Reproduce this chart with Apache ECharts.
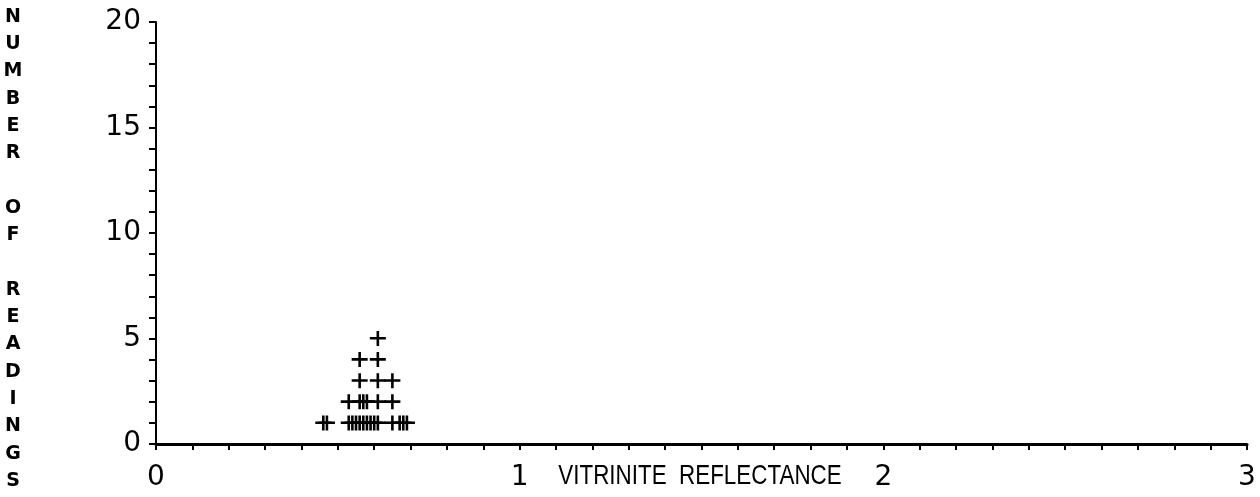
<!DOCTYPE html>
<html>
<head>
<meta charset="utf-8">
<title>Vitrinite reflectance histogram</title>
<script src="https://cdn.jsdelivr.net/npm/echarts@6/dist/echarts.min.js"></script>
<style>
  html, body { margin: 0; padding: 0; background: #ffffff; }
  #chart { width: 1260px; height: 497px; }
</style>
</head>
<body>
<div id="chart"></div>
<script>
// Distinct reflectance values (%Ro) and how many readings fell on each
const reflectance = [0.46, 0.47, 0.53, 0.54, 0.55, 0.56, 0.57, 0.58, 0.59, 0.60, 0.61, 0.65, 0.67, 0.68, 0.69];
const readingCounts = [1, 1, 2, 1, 1, 4, 2, 2, 1, 1, 5, 3, 1, 1, 1];

// Axis ranges and labels
const xTicks = [0, 1, 2, 3];
const yTicks = [0, 5, 10, 15, 20];
const xTitle = 'VITRINITE  REFLECTANCE';
const yTitle = 'NUMBER OF READINGS';

// Each reading is drawn as a '+' stacked above the previous one at the same value
const points = [];
reflectance.forEach(function (r, i) {
  for (let k = 1; k <= readingCounts[i]; k++) points.push([r, k]);
});

const plusSymbol = 'path://M0,6 H16 V8.6 H0 Z M6.7,0 H9.3 V15 H6.7 Z';
const numFont = '"DejaVu Sans", "Liberation Sans", Arial, sans-serif';

const chart = echarts.init(document.getElementById('chart'), null, { renderer: 'canvas' });
chart.setOption({
  animation: false,
  backgroundColor: '#ffffff',
  grid: { left: 156, right: 13, top: 22, bottom: 53, outerBoundsMode: 'none', containLabel: false },
  xAxis: {
    type: 'value',
    min: xTicks[0],
    max: xTicks[xTicks.length - 1],
    interval: 1,
    axisLine: { onZero: false, lineStyle: { color: '#000', width: 3 } },
    axisTick: { show: true, inside: false, length: 6, lineStyle: { color: '#000', width: 2 } },
    minorTick: { show: true, splitNumber: 10, length: 6, lineStyle: { color: '#000', width: 2 } },
    axisLabel: { color: '#000', fontSize: 28, fontFamily: numFont, margin: 20 },
    splitLine: { show: false }
  },
  yAxis: {
    type: 'value',
    min: yTicks[0],
    max: yTicks[yTicks.length - 1],
    interval: 5,
    axisLine: { show: true, onZero: false, lineStyle: { color: '#000', width: 2 } },
    axisTick: { show: true, inside: false, length: 7, lineStyle: { color: '#000', width: 2 } },
    minorTick: { show: true, splitNumber: 5, length: 7, lineStyle: { color: '#000', width: 2 } },
    axisLabel: { color: '#000', fontSize: 28, fontFamily: numFont, margin: 15 },
    splitLine: { show: false }
  },
  graphic: [{
    type: 'text',
    x: 13,
    y: 249,
    style: {
      text: yTitle.split('').join('\n'),
      textAlign: 'center',
      textVerticalAlign: 'middle',
      fontFamily: '"DejaVu Sans", "Liberation Sans", Arial, sans-serif',
      fontWeight: 'bold',
      fontSize: 19,
      lineHeight: 27.3,
      fill: '#000'
    }
  }, {
    type: 'text',
    x: 700,
    y: 476,
    scaleX: 0.8,
    style: {
      text: xTitle,
      textAlign: 'center',
      textVerticalAlign: 'middle',
      fontFamily: '"Liberation Sans", Arial, sans-serif',
      fontSize: 28,
      fill: '#000'
    }
  }],
  series: [{
    type: 'scatter',
    data: points,
    symbol: plusSymbol,
    symbolSize: [16, 15],
    itemStyle: { color: '#000', opacity: 1 },
    emphasis: { disabled: true }
  }]
});
</script>
</body>
</html>
